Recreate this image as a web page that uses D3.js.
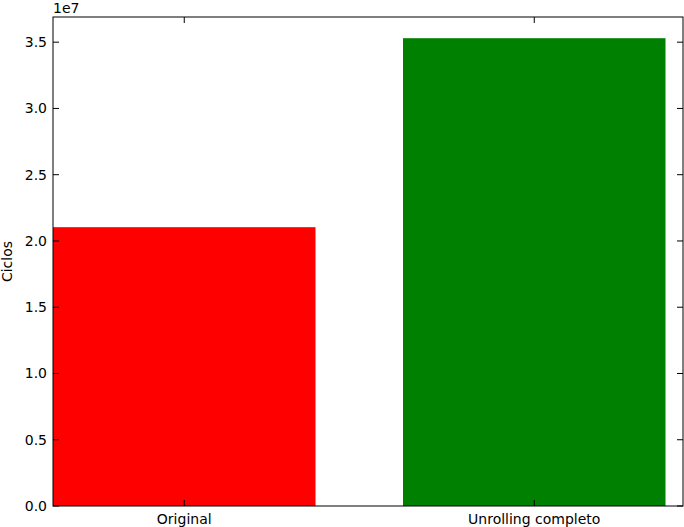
<!DOCTYPE html>
<html><head><meta charset="utf-8">
<script src="https://cdn.jsdelivr.net/npm/d3@7"></script>
<style>body{margin:0;background:#fff}text{font-family:"DejaVu Sans";font-size:14px;fill:#000}</style>
</head><body>
<script>
const categories=["Original","Unrolling completo"];
const values=[2.104e7,3.53e7];
const colors=["#ff0000","#008000"];
const yTicks=[0,0.5e7,1e7,1.5e7,2e7,2.5e7,3e7,3.5e7];
const W=684,H=527,L=53,R=683,T=17,B=506;
const svg=d3.select("body").append("svg").attr("width",W).attr("height",H);
const x=d3.scaleLinear().domain([-0.375,1.425]).range([L,R]);
const y=d3.scaleLinear().domain([0,3.69e7]).range([B,T]);
const bw=0.75;
svg.selectAll("rect.bar").data(values).enter().append("rect")
 .attr("x",(d,i)=>x(i-bw/2)).attr("width",(d,i)=>x(i+bw/2)-x(i-bw/2))
 .attr("y",d=>y(d)).attr("height",d=>B-y(d)).attr("fill",(d,i)=>colors[i]);
const g=svg.append("g");
yTicks.forEach(t=>{
 g.append("line").attr("x1",L).attr("x2",L+6).attr("y1",y(t)).attr("y2",y(t)).attr("stroke","#000");
 g.append("line").attr("x1",R).attr("x2",R-6).attr("y1",y(t)).attr("y2",y(t)).attr("stroke","#000");
 g.append("text").attr("x",L-6).attr("y",y(t)).attr("dy","0.35em").attr("text-anchor","end").text((t/1e7).toFixed(1));
});
categories.forEach((c,i)=>{
 g.append("line").attr("x1",x(i)).attr("x2",x(i)).attr("y1",B).attr("y2",B-6).attr("stroke","#000");
 g.append("line").attr("x1",x(i)).attr("x2",x(i)).attr("y1",T).attr("y2",T+6).attr("stroke","#000");
 g.append("text").attr("x",x(i)).attr("y",B+18).attr("text-anchor","middle").text(c);
});
svg.append("rect").attr("x",L).attr("y",T).attr("width",R-L).attr("height",B-T).attr("fill","none").attr("stroke","#000");
svg.append("text").attr("x",L).attr("y",T-4).text("1e7");
svg.append("text").attr("transform",`translate(12,${(T+B)/2}) rotate(-90)`).attr("text-anchor","middle").text("Ciclos");
</script>
</body></html>
